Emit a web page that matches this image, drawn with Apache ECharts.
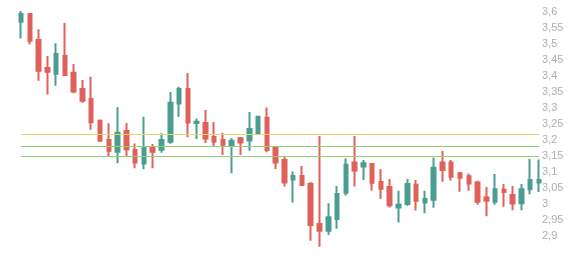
<!DOCTYPE html>
<html>
<head>
<meta charset="utf-8">
<script src="https://cdn.jsdelivr.net/npm/echarts@6/dist/echarts.min.js"></script>
<style>html,body{margin:0;padding:0;background:#fff}#c{width:584px;height:258px}</style>
</head>
<body>
<div id="c"></div>
<script>
var categories = [];
for (var k = 1; k <= 60; k++) categories.push(String(k));

var opens = [3.570,3.594,3.513,3.426,3.408,3.463,3.411,3.360,3.329,3.261,
3.201,3.164,3.229,3.169,3.127,3.178,3.170,3.195,3.315,3.360,
3.254,3.254,3.210,3.201,3.183,3.206,3.199,3.222,3.270,3.178,
3.138,3.077,3.088,3.063,2.938,2.917,2.954,3.036,3.130,3.118,
3.126,3.069,3.054,2.990,3.001,3.061,3.005,3.014,3.130,3.130,
3.097,3.087,3.068,3.021,3.008,3.045,3.029,3.003,3.047,3.068];

var closes = [3.594,3.511,3.417,3.414,3.469,3.404,3.352,3.323,3.256,3.198,
3.167,3.223,3.172,3.130,3.178,3.164,3.201,3.317,3.360,3.255,
3.258,3.205,3.195,3.186,3.198,3.193,3.235,3.273,3.169,3.130,
3.068,3.088,3.060,2.935,2.917,2.959,3.032,3.123,3.105,3.128,
3.067,3.048,2.997,2.998,3.063,3.011,3.016,3.114,3.107,3.086,
3.083,3.065,3.008,3.011,3.047,3.038,3.002,3.047,3.076,3.076];

var lows = [3.518,3.500,3.386,3.343,3.370,3.401,3.347,3.317,3.233,3.195,
3.148,3.128,3.148,3.112,3.109,3.112,3.161,3.189,3.273,3.209,
3.204,3.191,3.182,3.154,3.097,3.154,3.167,3.218,3.162,3.110,
3.055,3.005,3.058,2.886,2.867,2.904,2.923,3.027,3.055,3.076,
3.042,3.016,2.990,2.943,2.995,2.980,2.972,2.989,3.070,3.073,
3.039,3.042,2.998,2.962,2.998,2.992,2.981,2.981,3.031,3.038];

var highs = [3.604,3.597,3.547,3.463,3.503,3.566,3.438,3.388,3.398,3.265,
3.253,3.303,3.254,3.190,3.273,3.188,3.222,3.351,3.367,3.410,
3.268,3.294,3.257,3.223,3.206,3.210,3.288,3.276,3.302,3.182,
3.148,3.102,3.119,3.069,3.213,3.003,3.057,3.143,3.213,3.138,
3.129,3.110,3.079,3.042,3.079,3.076,3.042,3.145,3.166,3.138,
3.101,3.096,3.073,3.054,3.094,3.063,3.057,3.063,3.141,3.140];

var levelLines = [
  {value: 3.222, color: '#e6d66a'},
  {value: 3.178, color: '#93cf73'},
  {value: 3.154, color: '#93cf73'}
];

var yMin = 2.85, yMax = 3.6, yStep = 0.05;

var candleData = [];
for (var i = 0; i < categories.length; i++) {
  candleData.push([opens[i], closes[i], lows[i], highs[i]]);
}

var chart = echarts.init(document.getElementById('c'), null, {renderer: 'canvas'});
chart.setOption({
  animation: false,
  backgroundColor: '#fff',
  grid: {left: 21, right: 45, top: 12.2, bottom: 5.8, containLabel: false},
  xAxis: {
    type: 'category',
    data: categories,
    boundaryGap: false,
    show: false
  },
  yAxis: {
    type: 'value',
    position: 'right',
    min: yMin,
    max: yMax,
    interval: yStep,
    axisLine: {show: false},
    axisTick: {show: false},
    splitLine: {show: false},
    axisLabel: {
      showMinLabel: false,
      margin: 3,
      padding: [3, 0, 0, 0],
      color: '#b0b0b0',
      fontSize: 11,
      fontFamily: 'Liberation Sans, Arial, sans-serif',
      formatter: function (v) { return String(Math.round(v * 100) / 100).replace('.', ','); }
    }
  },
  series: [{
    type: 'candlestick',
    data: candleData,
    clip: false,
    barWidth: 4,
    itemStyle: {
      color: '#4b9e8f',
      color0: '#e0605a',
      borderColor: '#4b9e8f',
      borderColor0: '#e0605a',
      borderWidth: 2
    },
    markLine: {
      silent: true,
      symbol: ['none', 'none'],
      label: {show: false},
      data: levelLines.map(function (l) {
        return {yAxis: l.value, lineStyle: {color: l.color, width: 1, type: 'solid'}};
      })
    }
  }]
});
</script>
</body>
</html>
